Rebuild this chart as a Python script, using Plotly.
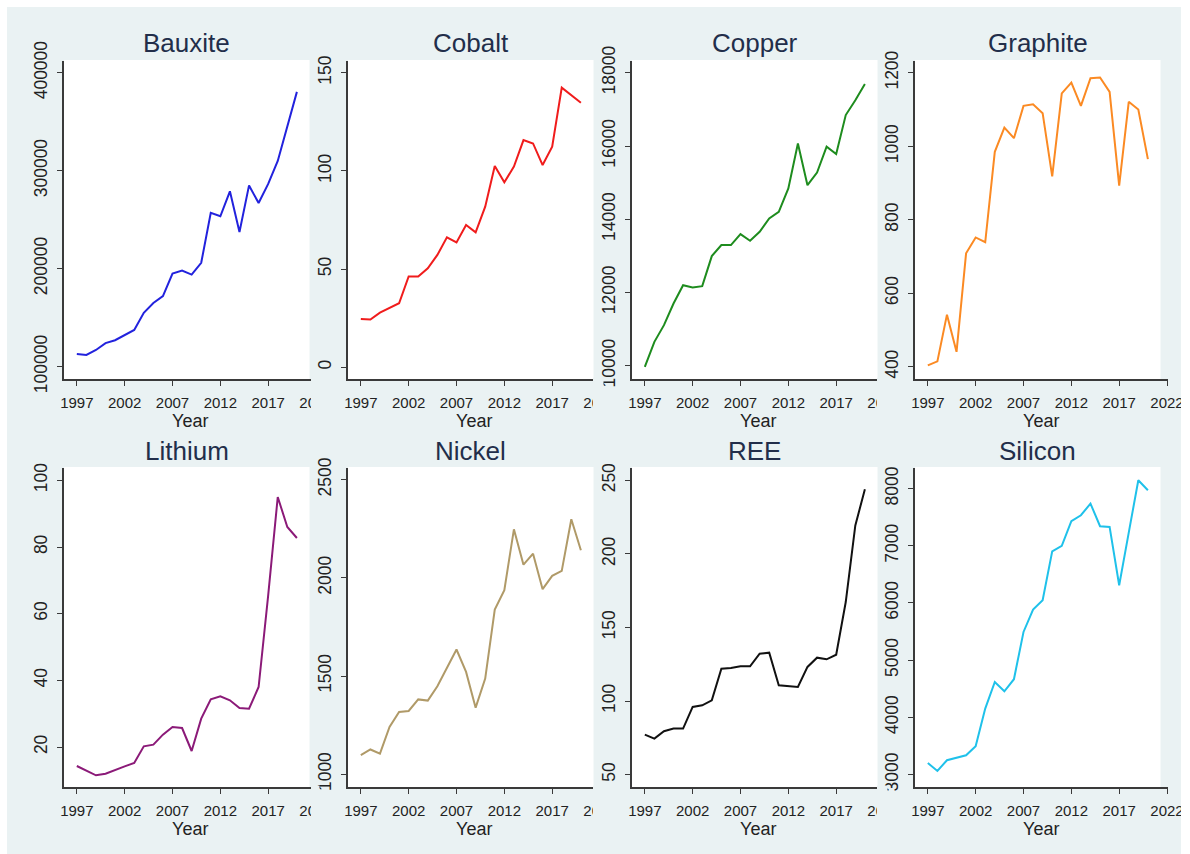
import plotly.graph_objects as go

# ---------------- data ----------------
years = list(range(1997, 2021))

minerals = ["Bauxite", "Cobalt", "Copper", "Graphite",
            "Lithium", "Nickel", "REE", "Silicon"]

bauxite = [113000, 112000, 117000, 124000, 127000, 132000, 137500, 155000,
           165000, 172000, 195000, 198000, 194000, 206000, 257000, 253500,
           279000, 237500, 285000, 267000, 286500, 310000, 346000, 380500]
cobalt = [24.6, 24.3, 27.8, 30.0, 32.6, 46.2, 46.2, 50.4, 57.2, 66.2, 63.6,
          72.5, 68.7, 81.8, 102.5, 94.2, 102.2, 115.7, 114.0, 103.0, 112.3,
          142.4, 138.6, 134.7]
copper = [9970, 10655, 11110, 11700, 12200, 12140, 12175, 12995, 13295,
          13295, 13595, 13415, 13660, 14020, 14200, 14840, 16070, 14930,
          15275, 15980, 15780, 16845, 17250, 17690]
graphite = [404, 415, 542, 441, 709, 752, 739, 985, 1051, 1022, 1110, 1114,
            1090, 918, 1144, 1173, 1110, 1185, 1187, 1148, 893, 1121, 1100, 965]
lithium = [14.3, 12.8, 11.5, 12.0, 13.2, 14.2, 15.2, 20.2, 20.7, 23.7, 26.0,
           25.7, 18.8, 28.5, 34.3, 35.2, 34.0, 31.7, 31.5, 38.0, 65.5, 95.0,
           86.0, 82.7]
nickel = [1097, 1126, 1105, 1241, 1317, 1322, 1381, 1375, 1448, 1541, 1635,
          1521, 1339, 1487, 1838, 1937, 2247, 2067, 2123, 1942, 2010, 2035,
          2298, 2140]
ree = [77.2, 74.5, 79.5, 81.3, 81.3, 96.0, 97.1, 100.5, 122.0, 122.5, 123.6,
       123.6, 132.2, 132.9, 110.7, 110.0, 109.6, 123.2, 129.5, 128.4, 131.5,
       167.3, 219.4, 243.9]
silicon = [3204, 3064, 3251, 3297, 3338, 3495, 4154, 4620, 4457, 4667, 5494,
           5885, 6048, 6904, 6998, 7429, 7534, 7738, 7342, 7330, 6310, 7231,
           8146, 7971]

series = [bauxite, cobalt, copper, graphite, lithium, nickel, ree, silicon]

x_tickvals = [1997, 2002, 2007, 2012, 2017, 2022]
y_tickvals = [
    [100000, 200000, 300000, 400000],
    [0, 50, 100, 150],
    [10000, 12000, 14000, 16000, 18000],
    [400, 600, 800, 1000, 1200],
    [20, 40, 60, 80, 100],
    [1000, 1500, 2000, 2500],
    [50, 100, 150, 200, 250],
    [3000, 4000, 5000, 6000, 7000, 8000],
]

# ---------------- styling / geometry ----------------
line_colors = ["#2222dd", "#f01c1c", "#1e8c1e", "#fb8a23",
               "#8b1a78", "#b09a68", "#111111", "#1fc1ea"]
y_ranges = [
    [87400, 412000], [-6, 156], [9640, 18320], [367, 1232],
    [8, 103.7], [935, 2559], [41.6, 258.4], [2783, 8360],
]

W, H = 1190, 854
BG = "#eaf2f3"
AX_X = [64, 348, 632, 915]
DOM_W = 252.5
X_RANGE = [1995.66, 2022.05]
ROW_TOP = [61, 468]
ROW_AXIS = [379, 787]
WHITE_TRIM = 7
CLIP = [311, 593, 877]
TITLE_Y = [43, 451]
FONT = "Arial, Liberation Sans, sans-serif"
AXIS_COLOR = "#3a3a3a"
TITLE_COLOR = "#222e4a"


def fx(x):
    return x / W


def fy(y):
    return 1 - y / H


fig = go.Figure()
shapes = []
annotations = []

for i, name in enumerate(minerals):
    r, c = divmod(i, 4)
    xa = "x" if i == 0 else f"x{i + 1}"
    ya = "y" if i == 0 else f"y{i + 1}"
    fig.add_trace(go.Scatter(
        x=years, y=series[i], mode="lines", name=name,
        line=dict(color=line_colors[i], width=2),
        xaxis=xa, yaxis=ya, showlegend=False,
    ))
    x0 = AX_X[c]
    x1 = x0 + DOM_W
    top = ROW_TOP[r]
    ax_y = ROW_AXIS[r]
    xkey = "xaxis" if i == 0 else f"xaxis{i + 1}"
    ykey = "yaxis" if i == 0 else f"yaxis{i + 1}"
    fig.layout[xkey] = dict(
        domain=[fx(x0), fx(x1)], range=X_RANGE, anchor=ya,
        tickvals=x_tickvals, showline=True, linecolor=AXIS_COLOR,
        linewidth=1.5, ticks="outside", ticklen=5, tickwidth=1.3,
        tickcolor=AXIS_COLOR, showgrid=False, zeroline=False,
        automargin=False,
        tickfont=dict(family=FONT, size=15, color="#222222"),
        ticklabelstandoff=4,
        title=dict(text="Year", font=dict(family=FONT, size=18,
                                          color="#222222"), standoff=0),
    )
    fig.layout[ykey] = dict(
        domain=[fy(ax_y), fy(top)], range=y_ranges[i], anchor=xa,
        tickvals=y_tickvals[i], tickformat="d", tickangle=-90,
        showline=True, linecolor=AXIS_COLOR, linewidth=1.5,
        ticks="outside", ticklen=5, tickwidth=1.3, tickcolor=AXIS_COLOR,
        showgrid=False, zeroline=False, automargin=False,
        tickfont=dict(family=FONT, size=17.5, color="#222222"),
        ticklabelstandoff=3,
    )
    # white plot region
    shapes.append(dict(type="rect", xref="paper", yref="paper", layer="below",
                       x0=fx(x0), x1=fx(x1 - WHITE_TRIM), y0=fy(ax_y), y1=fy(top - 1),
                       fillcolor="white", line=dict(width=0)))
    # title
    annotations.append(dict(
        text=name, xref="paper", yref="paper",
        x=fx((x0 + x1 - WHITE_TRIM) / 2), y=fy(TITLE_Y[r]),
        xanchor="center", yanchor="middle", showarrow=False,
        font=dict(family=FONT, size=26, color=TITLE_COLOR),
    ))
    # next panel overlaps the right end of this panel
    if c < 3:
        cl = CLIP[c]
        shapes.append(dict(type="rect", xref="paper", yref="paper", layer="above",
                           x0=fx(cl), x1=fx(x1 + 3), y0=fy(ax_y + 8), y1=fy(ax_y - 1.5),
                           fillcolor=BG, line=dict(width=0)))
        shapes.append(dict(type="rect", xref="paper", yref="paper", layer="above",
                           x0=fx(cl), x1=fx(cl + 28), y0=fy(ax_y + 34), y1=fy(ax_y + 13),
                           fillcolor=BG, line=dict(width=0)))

# white outer border of the image
for (a, b, c2, d) in [(0, 0, 7, H), (0, 0, W, 7), (1181, 0, W, H)]:
    shapes.append(dict(type="rect", xref="paper", yref="paper", layer="above",
                       x0=fx(a), x1=fx(c2), y0=fy(d), y1=fy(b),
                       fillcolor="white", line=dict(width=0)))

fig.update_layout(
    width=W, height=H,
    margin=dict(l=0, r=0, t=0, b=0, pad=0, autoexpand=False),
    paper_bgcolor=BG, plot_bgcolor=BG,
    shapes=shapes, annotations=annotations,
    font=dict(family=FONT),
)

fig.write_html("out.html", include_plotlyjs=True, full_html=True,
               config={"displayModeBar": False},
               post_script="document.body.style.margin='0px';document.body.style.overflow='hidden';")
